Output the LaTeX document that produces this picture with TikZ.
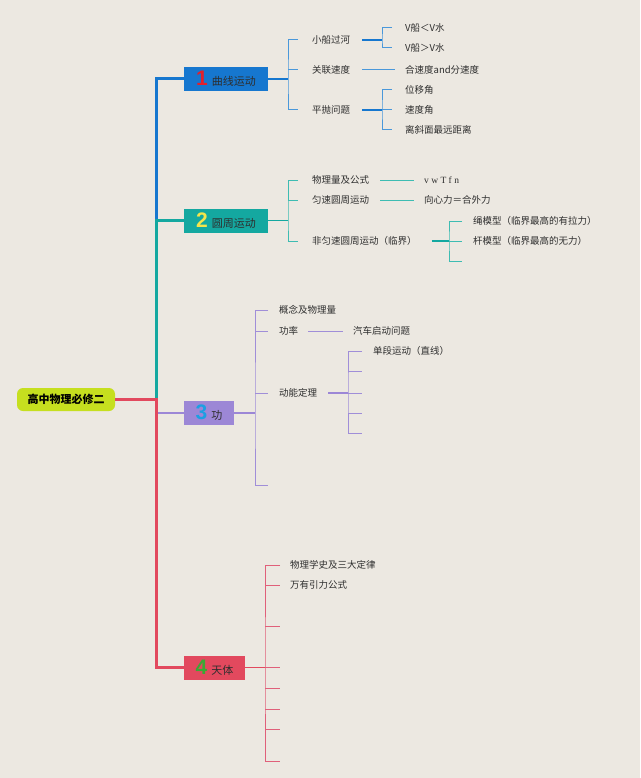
\documentclass[tikz,border=0pt]{standalone}
\usepackage{fontspec}
\newfontfamily\cjk{Noto Sans CJK SC}
\newfontfamily\numfont{Liberation Sans}
\newfontfamily\serifv{Liberation Serif}
\definecolor{bg}{HTML}{ECE8E1}
\definecolor{c1}{HTML}{1677CF}
\definecolor{c1l}{HTML}{4A98DA}
\definecolor{c2}{HTML}{14A8A0}
\definecolor{c2l}{HTML}{3EBCB2}
\definecolor{c3}{HTML}{9C87D6}
\definecolor{c3l}{HTML}{A08ED8}
\definecolor{c4}{HTML}{E2495E}
\definecolor{c4l}{HTML}{E0607A}
\definecolor{rootc}{HTML}{C6DF1F}
\definecolor{n1}{HTML}{E3202C}
\definecolor{n2}{HTML}{F4E54C}
\definecolor{n3}{HTML}{1C9FE2}
\definecolor{n4}{HTML}{3AA834}
\definecolor{txt}{HTML}{2E2E2E}
\newcommand\tnum[2]{\textcolor{#1}{\numfont\bfseries\fontsize{21}{21}\selectfont #2}\hspace{4pt}}
\tikzset{
  lbl/.style={anchor=west, inner sep=0pt, text=txt, font=\cjk\fontsize{9.5}{11}\selectfont},
  topic/.style={minimum height=24pt, inner sep=0pt, text=txt, font=\cjk\fontsize{11}{13}\selectfont},
  root/.style={rounded corners=6pt, fill=rootc, minimum width=98pt, minimum height=23pt, inner sep=0pt, text=black, font=\cjk\bfseries\fontsize{11}{13}\selectfont},
  trunk/.style={line width=3pt},
  main/.style={line width=1.6pt},
  tick/.style={line width=1pt}
}
\begin{document}
\begin{tikzpicture}[x=1pt,y=-1pt]
    % background
    \fill[bg] (0,0) rectangle (640,778);
    \useasboundingbox (0,0) rectangle (640,778);

    % root and topics
    \node[root] (root) at (66,399.5) {高中物理必修二};
    \node[topic,fill=c1,minimum width=84pt] (b1) at (226,79) {\tnum{n1}{1}曲线运动};
    \node[topic,fill=c2,minimum width=84pt] (b2) at (226,220.5) {\tnum{n2}{2}圆周运动};
    \node[topic,fill=c3,minimum width=50pt] (b3) at (209,413) {\tnum{n3}{3}功};
    \node[topic,fill=c4,minimum width=61pt] (b4) at (214.5,667.5) {\tnum{n4}{4}天体};

    % trunk
    \coordinate (tr) at (156,399.5);
    \draw[trunk,c1] (b1.west) -| (tr |- b2.west);
    \draw[trunk,c2] (b2.west) -| (tr);
    \draw[line width=2pt,c3] (tr |- b3.west) -- (b3.west);
    \draw[trunk,c4] (root.east) -- (tr) |- (b4.west);

    % branch 1
    \coordinate (k1) at (288,79);
    \node[lbl] (a1) at (312,40) {小船过河};
    \node[lbl] (a2) at (312,70) {关联速度};
    \node[lbl] (a3) at (312,110) {平抛问题};
    \draw[main,c1] (b1.east) -- (k1);
    \draw[tick,c1l] ([xshift=-14pt]a1.west) -| (k1) |- ([xshift=-14pt]a3.west);
    \draw[tick,c1l] (k1 |- a2.west) -- ([xshift=-14pt]a2.west);

    \coordinate (k11) at (382,40);
    \node[lbl] (a11) at (405,28) {V船＜V水};
    \node[lbl] (a12) at (405,48) {V船＞V水};
    \draw[line width=1.2pt,c1] ([xshift=12pt]a1.east) -- (k11);
    \draw[tick,c1l] ([xshift=-13pt]a11.west) -| (k11) |- ([xshift=-13pt]a12.west);

    \node[lbl] (a21) at (405,70) {合速度and分速度};
    \draw[tick,c1l] ([xshift=12pt]a2.east) -- ([xshift=-10pt]a21.west);

    \coordinate (k13) at (382,110);
    \node[lbl] (a31) at (405,90) {位移角};
    \node[lbl] (a32) at (405,110) {速度角};
    \node[lbl] (a33) at (405,130) {离斜面最远距离};
    \draw[line width=1.2pt,c1] ([xshift=12pt]a3.east) -- (k13);
    \draw[tick,c1l] ([xshift=-13pt]a31.west) -| (k13) |- ([xshift=-13pt]a33.west);
    \draw[tick,c1l] (k13) -- ([xshift=-13pt]a32.west);

    % branch 2
    \coordinate (k2) at (288,220.5);
    \node[lbl] (r1) at (312,180) {物理量及公式};
    \node[lbl] (r2) at (312,200) {匀速圆周运动};
    \node[lbl] (r3) at (312,241) {非匀速圆周运动（临界）};
    \draw[main,c2] (b2.east) -- (k2);
    \draw[tick,c2l] ([xshift=-14pt]r1.west) -| (k2) |- ([xshift=-14pt]r3.west);
    \draw[tick,c2l] (k2 |- r2.west) -- ([xshift=-14pt]r2.west);

    \node[lbl,font=\serifv\fontsize{9.5}{11}\selectfont] (r11) at (424,180) {v w T f n};
    \node[lbl] (r21) at (424,200) {向心力＝合外力};
    \draw[tick,c2l] ([xshift=11pt]r1.east) -- ([xshift=-10pt]r11.west);
    \draw[tick,c2l] ([xshift=11pt]r2.east) -- ([xshift=-10pt]r21.west);

    \coordinate (k23) at (449,241);
    \coordinate (e23) at (462,261);
    \node[lbl] (r31) at (473,221) {绳模型（临界最高的有拉力）};
    \node[lbl] (r32) at (473,241) {杆模型（临界最高的无力）};
    \draw[line width=1.2pt,c2] ([xshift=15pt]r3.east) -- (k23);
    \draw[tick,c2l] ([xshift=-11pt]r31.west) -| (k23) |- (e23);
    \draw[tick,c2l] (k23) -- ([xshift=-11pt]r32.west);

    % branch 3
    \coordinate (k3) at (255,413);
    \coordinate (e3) at (268,485);
    \node[lbl] (d1) at (279,310) {概念及物理量};
    \node[lbl] (d2) at (279,331) {功率};
    \node[lbl] (d3) at (279,393) {动能定理};
    \draw[main,c3] (b3.east) -- (k3);
    \draw[tick,c3l] ([xshift=-11pt]d1.west) -| (k3) |- (e3);
    \draw[tick,c3l] (k3 |- d2.west) -- ([xshift=-11pt]d2.west);
    \draw[tick,c3l] (k3 |- d3.west) -- ([xshift=-11pt]d3.west);

    \node[lbl] (d21) at (353,331) {汽车启动问题};
    \draw[tick,c3l] ([xshift=10pt]d2.east) -- ([xshift=-10pt]d21.west);

    \coordinate (k33) at (348,393);
    \node[lbl] (d31) at (373,351) {单段运动（直线）};
    \draw[line width=1.2pt,c3] ([xshift=11pt]d3.east) -- (k33);
    \draw[tick,c3l] ([xshift=-11pt]d31.west) -| (k33) |- (362,433);
    \foreach \y in {371,393,413}
        \draw[tick,c3l] (348,\y) -- (362,\y);

    % branch 4
    \coordinate (k4) at (265,667.5);
    \node[lbl] (f1) at (290,565) {物理学史及三大定律};
    \node[lbl] (f2) at (290,585) {万有引力公式};
    \draw[main,c4] (b4.east) -- (k4);
    \draw[tick,c4l] ([xshift=-10pt]f1.west) -| (k4) |- (280,761);
    \draw[tick,c4l] (k4 |- f2.west) -- ([xshift=-10pt]f2.west);
    \foreach \y in {626,667.5,688,709,729}
        \draw[tick,c4l] (265,\y) -- (280,\y);
\end{tikzpicture}
\end{document}
